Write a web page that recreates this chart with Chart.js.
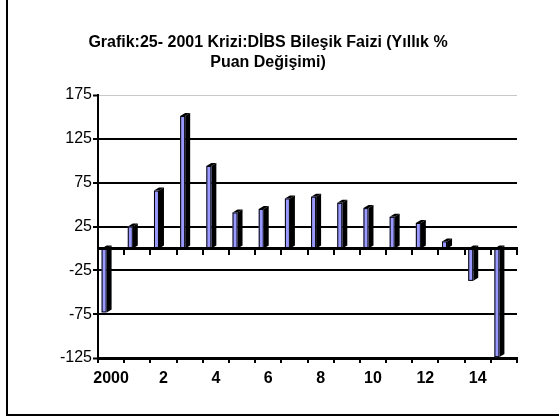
<!DOCTYPE html>
<html>
<head>
<meta charset="utf-8">
<script src="https://cdn.jsdelivr.net/npm/chart.js@4.4.1/dist/chart.umd.min.js"></script>
<style>
  body { margin: 0; background: #fff; }
  #wrap { position: relative; width: 559px; height: 419px; }
  #frame { position: absolute; left: 6px; top: 0; width: 553px; height: 414px; border-left: 2px solid #000; border-bottom: 2px solid #000; }
  canvas { position: absolute; left: 0; top: 0; }
</style>
</head>
<body>
<div id="wrap">
  <div id="frame"></div>
  <canvas id="c" width="559" height="419"></canvas>
</div>
<script>
const titleLines = ['Grafik:25- 2001 Krizi:DİBS Bileşik Faizi (Yıllık %', 'Puan Değişimi)'];
const categories = ['2000', '1', '2', '3', '4', '5', '6', '7', '8', '9', '10', '11', '12', '13', '14', '15'];
const values = [-73, 25, 66, 151, 94, 41, 45, 57, 59, 52, 46, 36, 29, 8, -37, -124];
const yTicks = [175, 125, 75, 25, -25, -75, -125];

const FONT = "'Liberation Sans', Arial, sans-serif";

// draws the excel-like 3D bars from the bar elements
const bars3d = {
    id: 'bars3d',
    afterDatasetsDraw(chart) {
        const ctx = chart.ctx;
        const meta = chart.getDatasetMeta(0);
        const dx = 5, dy = -3;
        ctx.save();
        meta.data.forEach(el => {
            const fl = el.x - 9.5, fr = el.x - 4.5;
            const top = Math.min(el.y, el.base), bot = Math.max(el.y, el.base);
            ctx.fillStyle = '#000';
            // side
            ctx.beginPath();
            ctx.moveTo(fr, top); ctx.lineTo(fr + dx, top + dy);
            ctx.lineTo(fr + dx, bot + dy); ctx.lineTo(fr, bot);
            ctx.closePath(); ctx.fill();
            // cap
            ctx.beginPath();
            ctx.moveTo(fl, top); ctx.lineTo(fl + dx, top + dy);
            ctx.lineTo(fr + dx, top + dy); ctx.lineTo(fr, top);
            ctx.closePath(); ctx.fill();
            // front
            ctx.fillStyle = '#9999FF';
            ctx.fillRect(fl, top, fr - fl, bot - top);
            ctx.strokeStyle = '#000'; ctx.lineWidth = 1;
            ctx.strokeRect(fl + 0.5, top + 0.5, fr - fl - 1, bot - top - 1);
        });
        // zero line over the bar feet
        const y0 = chart.scales.y.getPixelForValue(0);
        ctx.strokeStyle = '#000'; ctx.lineWidth = 3;
        ctx.beginPath(); ctx.moveTo(chart.chartArea.left, y0); ctx.lineTo(chart.chartArea.right, y0); ctx.stroke();
        ctx.restore();
    }
};

new Chart(document.getElementById('c'), {
    type: 'bar',
    data: {
        labels: categories,
        datasets: [{ data: values, backgroundColor: 'rgba(0,0,0,0)', borderWidth: 0 }]
    },
    options: {
        responsive: false,
        animation: false,
        devicePixelRatio: 1,
        layout: { padding: { top: 33, left: 19, right: 42, bottom: 21 } },
        plugins: {
            legend: { display: false },
            tooltip: { enabled: false },
            title: {
                display: true, text: titleLines, color: '#000',
                font: { family: FONT, size: 16, weight: 'bold', lineHeight: 1.25 },
                padding: { top: 0, bottom: 22 }
            }
        },
        scales: {
            x: {
                type: 'category', offset: true,
                grid: { offset: true, drawOnChartArea: false, drawTicks: true, tickLength: 5, color: '#000', lineWidth: 2 },
                border: { display: true, color: '#000', width: 3 },
                ticks: {
                    autoSkip: false, maxRotation: 0, padding: 6, color: '#000',
                    font: { family: FONT, size: 16, weight: 'bold' },
                    callback: (v, i) => i % 2 === 0 ? categories[i] : ''
                },
                afterFit: s => { s.height = 40; }
            },
            x2: {
                type: 'category', axis: 'x', position: { y: 0 }, offset: true,
                grid: { offset: true, drawOnChartArea: false, drawTicks: true, tickLength: 5, color: '#000', lineWidth: 2 },
                border: { display: true, color: '#000', width: 3 },
                ticks: { display: false }
            },
            y: {
                min: -125, max: 175,
                afterBuildTicks: s => { s.ticks = yTicks.map(v => ({ value: v })); },
                grid: {
                    color: c => (c.tick && (c.tick.value === 175 || c.tick.value === -125)) ? '#c8c8c8' : '#000',
                    lineWidth: c => (c.tick && (c.tick.value === 175 || c.tick.value === -125)) ? 1 : 2,
                    tickColor: '#000', tickWidth: 2, tickLength: 5
                },
                border: { display: true, color: '#000', width: 2 },
                ticks: { padding: 1, color: '#000', font: { family: FONT, size: 16 } },
                afterFit: s => { s.width = 79; }
            }
        }
    },
    plugins: [bars3d]
});
</script>
</body>
</html>
